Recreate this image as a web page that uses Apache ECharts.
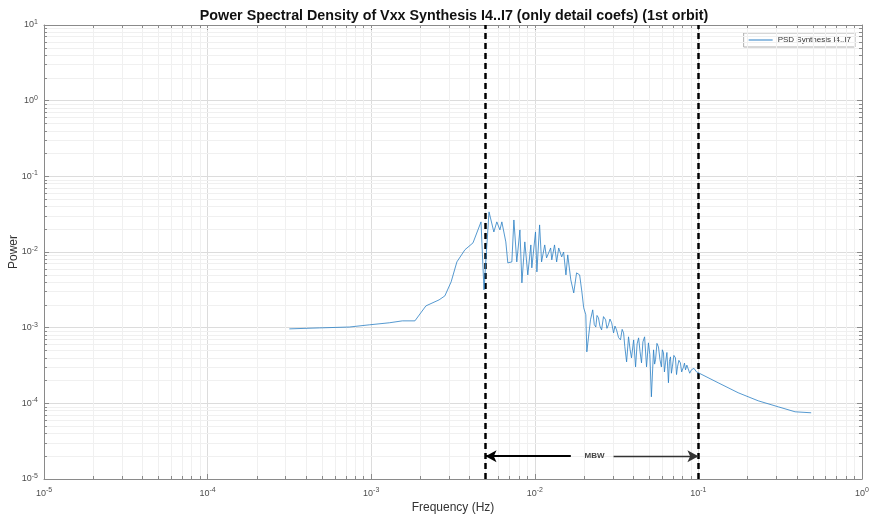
<!DOCTYPE html>
<html>
<head>
<meta charset="utf-8">
<script src="https://cdn.jsdelivr.net/npm/echarts@6/dist/echarts.min.js"></script>
<style>
html,body{margin:0;padding:0;background:#fff;}
#chart{width:869px;height:517px;}
</style>
</head>
<body>
<div id="chart"></div>
<script>
// ---- data ----
const titleText = 'Power Spectral Density of Vxx Synthesis I4..I7 (only detail coefs) (1st orbit)';
const seriesName = 'PSD Synthesis I4..I7';
const xRange = [1e-5, 1];
const yRange = [1e-5, 10];
const freq = [
  3.16e-4, 4.82e-4, 7.35e-4, 9.73e-4, 1.29e-3, 1.55e-3, 1.85e-3, 2.16e-3, 2.60e-3, 2.82e-3,
  3.08e-3, 3.34e-3, 3.74e-3, 4.19e-3, 4.69e-3, 4.89e-3, 5.25e-3, 5.62e-3, 5.86e-3, 6.12e-3,
  6.29e-3, 6.65e-3, 6.84e-3, 7.24e-3, 7.45e-3, 7.76e-3, 8.11e-3, 8.34e-3, 8.69e-3, 9.06e-3,
  9.46e-3, 9.59e-3, 1.01e-2, 1.03e-2, 1.07e-2, 1.10e-2, 1.15e-2, 1.18e-2, 1.25e-2, 1.27e-2,
  1.32e-2, 1.36e-2, 1.40e-2, 1.46e-2, 1.50e-2, 1.55e-2, 1.59e-2, 1.66e-2, 1.73e-2, 1.80e-2,
  1.88e-2, 1.94e-2, 1.99e-2, 2.05e-2, 2.08e-2, 2.19e-2, 2.26e-2, 2.31e-2, 2.36e-2, 2.40e-2,
  2.45e-2, 2.50e-2, 2.56e-2, 2.63e-2, 2.71e-2, 2.76e-2, 2.82e-2, 2.88e-2, 2.95e-2, 3.03e-2,
  3.09e-2, 3.16e-2, 3.25e-2, 3.34e-2, 3.42e-2, 3.49e-2, 3.55e-2, 3.64e-2, 3.74e-2, 3.82e-2,
  3.90e-2, 4.02e-2, 4.13e-2, 4.22e-2, 4.31e-2, 4.40e-2, 4.49e-2, 4.58e-2, 4.69e-2, 4.82e-2,
  4.95e-2, 5.05e-2, 5.16e-2, 5.32e-2, 5.40e-2, 5.47e-2, 5.58e-2, 5.70e-2, 5.82e-2, 5.94e-2,
  6.02e-2, 6.12e-2, 6.20e-2, 6.29e-2, 6.42e-2, 6.56e-2, 6.65e-2, 6.75e-2, 6.84e-2, 6.93e-2,
  7.08e-2, 7.24e-2, 7.35e-2, 7.45e-2, 7.60e-2, 7.76e-2, 7.90e-2, 8.11e-2, 8.22e-2, 8.34e-2,
  8.50e-2, 8.69e-2, 8.85e-2, 9.06e-2, 9.40e-2, 9.73e-2, 0.100, 0.132, 0.175, 0.232,
  0.308, 0.390, 0.489
];
const power = [
  9.64e-4, 9.93e-4, 1.02e-3, 1.09e-3, 1.16e-3, 1.23e-3, 1.23e-3, 1.94e-3, 2.33e-3, 2.63e-3,
  4.03e-3, 7.40e-3, 1.07e-2, 1.32e-2, 2.50e-2, 3.16e-3, 3.39e-2, 1.84e-2, 2.50e-2, 1.96e-2,
  2.50e-2, 1.36e-2, 7.18e-3, 7.40e-3, 2.65e-2, 7.40e-3, 1.96e-2, 3.91e-3, 1.36e-2, 4.98e-3,
  1.24e-2, 6.17e-3, 1.84e-2, 5.46e-3, 2.28e-2, 7.40e-3, 1.24e-2, 8.36e-3, 1.13e-2, 7.87e-3,
  1.24e-2, 7.40e-3, 1.13e-2, 8.61e-3, 1.00e-2, 4.98e-3, 9.16e-3, 4.28e-3, 2.88e-3, 5.30e-3,
  4.98e-3, 2.97e-3, 1.83e-3, 1.48e-3, 4.79e-4, 1.27e-3, 1.72e-3, 1.10e-3, 1.02e-3, 1.45e-3,
  1.35e-3, 1.05e-3, 9.35e-4, 1.40e-3, 1.27e-3, 9.80e-4, 1.09e-3, 1.30e-3, 1.16e-3, 8.53e-4,
  1.05e-3, 9.35e-4, 7.40e-4, 6.90e-4, 9.50e-4, 8.53e-4, 5.60e-4, 3.53e-4, 7.57e-4, 5.20e-4,
  3.99e-4, 6.90e-4, 3.03e-4, 6.10e-4, 7.33e-4, 4.80e-4, 3.43e-4, 6.50e-4, 7.57e-4, 3.03e-4,
  6.30e-4, 4.40e-4, 1.22e-4, 5.09e-4, 3.30e-4, 3.76e-4, 6.20e-4, 5.57e-4, 3.80e-4, 3.03e-4,
  5.10e-4, 4.65e-4, 2.60e-4, 3.43e-4, 4.70e-4, 1.87e-4, 3.60e-4, 4.11e-4, 2.50e-4, 3.03e-4,
  4.30e-4, 3.99e-4, 2.40e-4, 3.03e-4, 3.70e-4, 3.43e-4, 2.60e-4, 3.03e-4, 3.40e-4, 2.77e-4,
  3.20e-4, 3.03e-4, 2.50e-4, 2.77e-4, 2.90e-4, 2.61e-4, 2.53e-4, 1.87e-4, 1.38e-4, 1.08e-4,
  8.99e-5, 7.73e-5, 7.50e-5
];
const mbwBand = [0.005, 0.1];
const mbwLevel = 2e-5;
const mbwLeftEnd = 0.0166;
const mbwRightStart = 0.0303;
const mbwLabelAt = 0.0232;
const mbwLabel = 'MBW';

// ---- chart ----
const chart = echarts.init(document.getElementById('chart'));
const fontFam = '"Liberation Sans", Arial, Helvetica, sans-serif';
const lineCol = '#2a7fc4';

function minorValues(lo, hi) {
  const out = [];
  for (let e = lo; e < hi; e++) {
    for (let m = 2; m <= 9; m++) out.push(m * Math.pow(10, e));
  }
  return out;
}
const xMinor = minorValues(-5, 0);
const yMinor = minorValues(-5, 1);

// vertical / horizontal full-height lines through the axis scales
const vLine = v => [{ coord: [v, yRange[0]] }, { coord: [v, yRange[1]] }];
const hLine = v => [{ coord: [xRange[0], v] }, { coord: [xRange[1], v] }];
// short inward minor ticks (factor = ~3px along each log axis)
const tx = Math.pow(10, 3 / 75.7), ty = Math.pow(10, 3 / 164);
const minorTicks = []
  .concat(xMinor.map(v => [{ coord: [v, yRange[0]] }, { coord: [v, yRange[0] * tx] }]))
  .concat(xMinor.map(v => [{ coord: [v, yRange[1]] }, { coord: [v, yRange[1] / tx] }]))
  .concat(yMinor.map(v => [{ coord: [xRange[0], v] }, { coord: [xRange[0] * ty, v] }]))
  .concat(yMinor.map(v => [{ coord: [xRange[1], v] }, { coord: [xRange[1] / ty, v] }]));

function powLabel(v) {
  const e = Math.round(Math.log10(v));
  return '10{sup|' + e + '}';
}
const labelRich = {
  sup: { fontSize: 7, verticalAlign: 'top', padding: [0, 0, 6, 0], color: '#4d4d4d', fontFamily: fontFam }
};
const axisCol = '#8a8a8a';

const option = {
  animation: false,
  backgroundColor: '#fff',
  title: {
    text: titleText,
    left: 449, top: 4, textAlign: 'center',
    textStyle: { fontSize: 14.3, fontWeight: 'bold', color: '#111', fontFamily: fontFam }
  },
  legend: {
    data: [{ name: seriesName, icon: 'rect', itemStyle: { color: lineCol } }],
    right: 14, top: 33,
    orient: 'vertical',
    backgroundColor: '#fff',
    borderColor: '#b0b0b0', borderWidth: 1,
    padding: [3, 4, 3, 5],
    itemWidth: 24, itemHeight: 1,
    itemGap: 2,
    textStyle: { fontSize: 8, color: '#333', fontFamily: fontFam }
  },
  grid: { left: 44, right: 7, top: 25, bottom: 38, show: false, containLabel: false, outerBoundsMode: 'none' },
  xAxis: [{
    type: 'log', logBase: 10, min: xRange[0], max: xRange[1],
    name: 'Frequency (Hz)', nameLocation: 'middle', nameGap: 23, nameMoveOverlap: false,
    nameTextStyle: { fontSize: 12, color: '#333', fontFamily: fontFam },
    axisLine: { show: true, lineStyle: { color: axisCol, width: 1 } },
    axisTick: { show: true, inside: true, length: 5, lineStyle: { color: axisCol } },
    axisLabel: { formatter: powLabel, rich: labelRich, fontSize: 9, color: '#4d4d4d', margin: 8, fontFamily: fontFam },
    splitLine: { show: true, lineStyle: { color: '#dcdcdc', width: 1 } }
  }, {
    type: 'log', logBase: 10, min: xRange[0], max: xRange[1], position: 'top',
    axisLine: { show: true, lineStyle: { color: axisCol, width: 1 } },
    axisTick: { show: true, inside: true, length: 5, lineStyle: { color: axisCol } },
    axisLabel: { show: false }, splitLine: { show: false }
  }],
  yAxis: [{
    type: 'log', logBase: 10, min: yRange[0], max: yRange[1],
    name: 'Power', nameLocation: 'middle', nameGap: 24, nameMoveOverlap: false,
    nameTextStyle: { fontSize: 12, color: '#333', fontFamily: fontFam },
    axisLine: { show: true, lineStyle: { color: axisCol, width: 1 } },
    axisTick: { show: true, inside: true, length: 5, lineStyle: { color: axisCol } },
    axisLabel: { formatter: powLabel, rich: labelRich, fontSize: 9, color: '#4d4d4d', margin: 6, fontFamily: fontFam },
    splitLine: { show: true, lineStyle: { color: '#dcdcdc', width: 1 } }
  }, {
    type: 'log', logBase: 10, min: yRange[0], max: yRange[1], position: 'right',
    axisLine: { show: true, lineStyle: { color: axisCol, width: 1 } },
    axisTick: { show: true, inside: true, length: 5, lineStyle: { color: axisCol } },
    axisLabel: { show: false }, splitLine: { show: false }
  }],
  series: [
    {
      name: 'minorGrid', type: 'line', data: [], silent: true, z: 1,
      markLine: {
        silent: true, symbol: ['none', 'none'], animation: false,
        label: { show: false },
        lineStyle: { color: '#f0f0f0', width: 1, type: 'solid' },
        data: xMinor.map(vLine).concat(yMinor.map(hLine))
      }
    },
    {
      name: 'minorTicks', type: 'line', data: [], silent: true, z: 2,
      markLine: {
        silent: true, symbol: ['none', 'none'], animation: false,
        label: { show: false },
        lineStyle: { color: axisCol, width: 1, type: 'solid' },
        data: minorTicks
      }
    },
    {
      name: seriesName, type: 'line', symbol: 'none', z: 5,
      data: freq.map((f, i) => [f, power[i]]),
      lineStyle: { color: lineCol, width: 0.8 },
      itemStyle: { color: lineCol }
    },
    {
      name: 'bandEdges', type: 'line', data: [], silent: true, z: 6,
      markLine: {
        silent: true, symbol: ['none', 'none'], animation: false,
        label: { show: false },
        lineStyle: { color: '#000', width: 2.5, type: [6, 4] },
        data: mbwBand.map(vLine)
      }
    },
    {
      name: 'mbwArrows', type: 'line', data: [], silent: true, z: 6,
      markLine: {
        silent: true, animation: false, symbolSize: [9, 11],
        label: { show: false },
        data: [
          [{ coord: [mbwBand[0], mbwLevel], symbol: 'arrow', lineStyle: { color: '#000', width: 2, type: 'solid' } },
           { coord: [mbwLeftEnd, mbwLevel], symbol: 'none' }],
          [{ coord: [mbwRightStart, mbwLevel], symbol: 'none', lineStyle: { color: '#333', width: 1.3, type: 'solid' } },
           { coord: [mbwBand[1], mbwLevel], symbol: 'arrow' }]
        ]
      }
    },
    {
      name: 'mbwText', type: 'scatter', symbolSize: 0, silent: true, z: 7,
      data: [[mbwLabelAt, mbwLevel]],
      label: {
        show: true, position: 'inside', formatter: mbwLabel,
        fontSize: 8, fontWeight: 'bold', color: '#111', fontFamily: fontFam
      }
    }
  ]
};
chart.setOption(option);
</script>
</body>
</html>
